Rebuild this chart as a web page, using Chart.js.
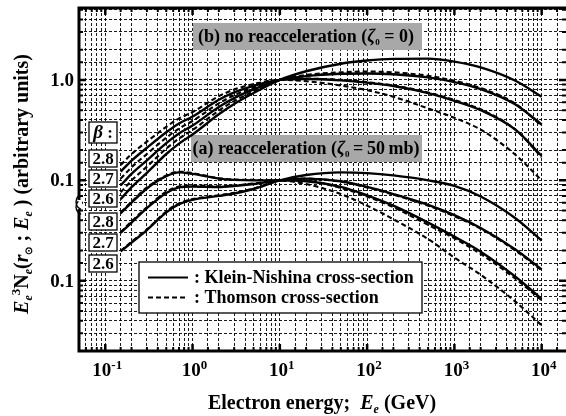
<!DOCTYPE html>
<html>
<head>
<meta charset="utf-8">
<script src="https://cdn.jsdelivr.net/npm/chart.js@4.4.0/dist/chart.umd.min.js"></script>
<style>
html, body { margin: 0; padding: 0; background: #fff; }
#c { display: block; }
</style>
</head>
<body>
<canvas id="c" width="566" height="416"></canvas>
<script>
// electron energy grid (GeV)
var energy = [0.15, 0.2, 0.3, 0.5, 0.7, 1, 2, 3, 5, 10, 20, 50, 100, 200, 500, 1000, 2000, 5000, 10000];

// (b) no reacceleration
var b28Thomson = [0.142, 0.183, 0.243, 0.341, 0.414, 0.479, 0.689, 0.802, 0.909, 1, 0.97, 0.88, 0.79, 0.68, 0.52, 0.42, 0.32, 0.18, 0.10];
var b28KN      = [0.122, 0.157, 0.211, 0.301, 0.369, 0.432, 0.634, 0.751, 0.872, 1, 1.02, 0.99, 0.94, 0.87, 0.74, 0.62, 0.50, 0.32, 0.175];
var b27Thomson = [0.104, 0.135, 0.183, 0.266, 0.328, 0.390, 0.584, 0.703, 0.837, 1, 1.03, 1.00, 0.95, 0.88, 0.75, 0.63, 0.51, 0.32, 0.17];
var b27KN      = [0.089, 0.116, 0.158, 0.235, 0.293, 0.351, 0.537, 0.658, 0.803, 1, 1.09, 1.15, 1.16, 1.14, 1.06, 0.95, 0.81, 0.57, 0.36];
var b26Thomson = [0.076, 0.0995, 0.137, 0.207, 0.261, 0.317, 0.495, 0.615, 0.771, 1, 1.12, 1.19, 1.21, 1.19, 1.10, 0.98, 0.83, 0.58, 0.35];
var b26KN      = [0.065, 0.0855, 0.119, 0.183, 0.232, 0.286, 0.455, 0.576, 0.740, 1, 1.22, 1.45, 1.56, 1.62, 1.63, 1.52, 1.33, 0.98, 0.68];

// (a) reacceleration
var a28Thomson = [0.048, 0.061, 0.085, 0.112, 0.122, 0.118, 0.105, 0.102, 0.101, 0.1, 0.092, 0.073, 0.056, 0.041, 0.026, 0.017, 0.0115, 0.0062, 0.0036];
var a28KN      = [0.047, 0.060, 0.083, 0.110, 0.120, 0.116, 0.104, 0.101, 0.100, 0.1, 0.098, 0.086, 0.071, 0.056, 0.038, 0.0275, 0.0195, 0.011, 0.0066];
var a27Thomson = [0.0305, 0.039, 0.054, 0.077, 0.087, 0.089, 0.087, 0.089, 0.093, 0.1, 0.099, 0.084, 0.069, 0.054, 0.036, 0.0265, 0.0185, 0.0105, 0.0064];
var a27KN      = [0.030, 0.038, 0.053, 0.075, 0.085, 0.087, 0.086, 0.088, 0.092, 0.1, 0.104, 0.098, 0.086, 0.073, 0.057, 0.045, 0.0335, 0.0205, 0.013];
var a26Thomson = [0.0198, 0.0245, 0.0325, 0.049, 0.059, 0.065, 0.071, 0.075, 0.083, 0.1, 0.104, 0.097, 0.085, 0.072, 0.056, 0.044, 0.033, 0.020, 0.0127];
var a26KN      = [0.0196, 0.024, 0.032, 0.048, 0.058, 0.064, 0.070, 0.074, 0.082, 0.1, 0.113, 0.12, 0.118, 0.112, 0.10, 0.088, 0.069, 0.042, 0.0252];

// axis labels
var xTickExps = [-1, 0, 1, 2, 3, 4];
var yTickLabels = [[1, "1.0"], [0.1, "0.1"], [0.01, "0.1"]];
var betaLabels = ["\u03B2:", "2.8", "2.7", "2.6", "2.8", "2.7", "2.6"];

var serif = '"Liberation Serif", "Times New Roman", serif';
function F(size, italic) { return (italic ? "italic " : "") + "bold " + size + "px " + serif; }

function mkSet(arr, dashed) {
	var pts = [];
	for (var i = 0; i < energy.length; i++) pts.push({x: energy[i], y: arr[i]});
	return {
		data: pts,
		borderColor: "#000",
		borderWidth: dashed ? 2.1 : 2.4,
		borderDash: dashed ? [5, 3] : [],
		pointRadius: 0,
		fill: false,
		cubicInterpolationMode: "monotone"
	};
}

// text made of pieces with their own font / vertical shift
function rich(ctx, parts, x, y, align) {
	var w = 0;
	parts.forEach(function(p){ ctx.font = p.f; w += ctx.measureText(p.t).width; });
	var sx = align == "center" ? x - w / 2 : (align == "right" ? x - w : x);
	ctx.textAlign = "left";
	ctx.textBaseline = "alphabetic";
	parts.forEach(function(p){
		ctx.font = p.f;
		ctx.fillText(p.t, sx, y + (p.dy || 0));
		sx += ctx.measureText(p.t).width;
	});
	return w;
}

var decor = {
	id: "decor",
	beforeDatasetsDraw: function(chart) {
		var ctx = chart.ctx;
		ctx.save();
		// grey annotation boxes
		ctx.fillStyle = "#a8a8a8";
		ctx.fillRect(193, 23, 229, 27);
		ctx.fillRect(191, 135, 231, 27);
		ctx.fillStyle = "#000";
		rich(ctx, [
			{t: "(b) no reacceleration (", f: F(18)},
			{t: "\u03B6", f: F(18, true)},
			{t: "0", f: F(9), dy: 3},
			{t: " = 0)", f: F(18)}
		], 306, 42, "center");
		rich(ctx, [
			{t: "(a) reacceleration (", f: F(18)},
			{t: "\u03B6", f: F(18, true)},
			{t: "0", f: F(9), dy: 3},
			{t: "\u2009=\u200950\u2009mb)", f: F(18)}
		], 306, 154, "center");

		// legend box
		ctx.fillStyle = "#fff";
		ctx.fillRect(139, 262, 283, 51);
		ctx.strokeStyle = "#000";
		ctx.lineWidth = 1.3;
		ctx.strokeRect(139, 262, 283, 51);
		ctx.lineWidth = 2.2;
		ctx.beginPath(); ctx.moveTo(148, 277.5); ctx.lineTo(188, 277.5); ctx.stroke();
		ctx.setLineDash([5, 3]);
		ctx.beginPath(); ctx.moveTo(148, 297.5); ctx.lineTo(188, 297.5); ctx.stroke();
		ctx.setLineDash([]);
		ctx.fillStyle = "#000";
		rich(ctx, [{t: ": Klein-Nishina cross-section", f: F(18)}], 194, 283, "left");
		rich(ctx, [{t: ": Thomson cross-section", f: F(18)}], 194, 303, "left");
		ctx.restore();
	},
	afterDraw: function(chart) {
		var ctx = chart.ctx, a = chart.chartArea;
		var xs = chart.scales.x, ys = chart.scales.y;
		ctx.save();
		ctx.strokeStyle = "#000";
		ctx.fillStyle = "#000";

		// inner tick marks
		xs.ticks.forEach(function(t){
			if (t.value <= xs.min || t.value >= xs.max) return;
			var px = xs.getPixelForValue(t.value);
			var major = Math.abs(Math.log10(t.value) - Math.round(Math.log10(t.value))) < 1e-6;
			var len = major ? 7 : 4;
			ctx.lineWidth = major ? 2.5 : 2;
			ctx.beginPath();
			ctx.moveTo(px, a.bottom); ctx.lineTo(px, a.bottom - len);
			ctx.moveTo(px, a.top); ctx.lineTo(px, a.top + len);
			ctx.stroke();
		});
		ys.ticks.forEach(function(t){
			if (t.value <= ys.min || t.value >= ys.max) return;
			var py = ys.getPixelForValue(t.value);
			var major = Math.abs(Math.log10(t.value) - Math.round(Math.log10(t.value))) < 1e-6;
			var len = major ? 7 : 4;
			ctx.lineWidth = major ? 2.5 : 2;
			ctx.beginPath();
			ctx.moveTo(a.left, py); ctx.lineTo(a.left + len, py);
			ctx.moveTo(a.right, py); ctx.lineTo(a.right - len, py);
			ctx.stroke();
		});

		// frame
		ctx.lineWidth = 3;
		ctx.beginPath();
		ctx.moveTo(a.right + 2, a.top);
		ctx.lineTo(a.left, a.top);
		ctx.lineTo(a.left, a.bottom);
		ctx.lineTo(a.right + 2, a.bottom);
		ctx.stroke();

		// axis break on the y axis: two "(" arcs with white between
		var bx = a.left, by = 205;
		ctx.fillStyle = "#fff";
		ctx.fillRect(bx - 3, by - 5, 6, 9);
		ctx.lineWidth = 1.4;
		[-3, 2].forEach(function(off){
			ctx.beginPath();
			ctx.arc(bx + 5, by + off, 8, Math.PI * 0.62, Math.PI * 1.25);
			ctx.stroke();
		});
		ctx.fillStyle = "#000";

		// x tick labels
		xTickExps.forEach(function(k){
			var px = xs.getPixelForValue(Math.pow(10, k));
			rich(ctx, [{t: "10", f: F(19)}, {t: String(k), f: F(13), dy: -7}], px + 2, 376, "center");
		});
		// y tick labels
		yTickLabels.forEach(function(p){
			var py = ys.getPixelForValue(p[0]);
			rich(ctx, [{t: p[1], f: F(19)}], 74, py + 6, "right");
		});

		// beta boxes
		var boxY = [122, 150, 170, 190, 213, 234, 255];
		betaLabels.forEach(function(s, i){
			var h = i == 0 ? 21 : 17;
			ctx.fillStyle = "#fff";
			ctx.fillRect(89, boxY[i], 28, h);
			ctx.lineWidth = 1.3;
			ctx.strokeRect(89, boxY[i], 28, h);
			ctx.fillStyle = "#000";
			if (i == 0) {
				rich(ctx, [{t: "\u03B2", f: F(19, true)}, {t: " :", f: F(17)}], 103, boxY[i] + 16, "center");
			} else {
				rich(ctx, [{t: s, f: F(17)}], 103, boxY[i] + 14, "center");
			}
		});

		// x title
		rich(ctx, [
			{t: "Electron energy;  ", f: F(20)},
			{t: "E", f: F(20, true)},
			{t: "e", f: F(12, true), dy: 4},
			{t: " (GeV)", f: F(20)}
		], 322, 409, "center");

		// y title (rotated)
		ctx.save();
		ctx.translate(28, 184);
		ctx.rotate(-Math.PI / 2);
		rich(ctx, [
			{t: "E", f: F(20, true)},
			{t: "e", f: F(12, true), dy: 4},
			{t: "3", f: F(13), dy: -8},
			{t: "N", f: F(20)},
			{t: "e", f: F(12, true), dy: 4},
			{t: "(", f: F(20)},
			{t: "r", f: F(20, true)},
			{t: "\u2299", f: F(10), dy: 4},
			{t: " ; ", f: F(20)},
			{t: "E", f: F(20, true)},
			{t: "e", f: F(12, true), dy: 4},
			{t: " ) (arbitrary units)", f: F(20)}
		], 0, 0, "center");
		ctx.restore();

		ctx.restore();
	}
};

var gridColor = function(c) {
	var s = c.scale;
	if (!c.tick || c.tick.value <= s.min || c.tick.value >= s.max) return "rgba(0,0,0,0)";
	return "#000";
};

var ctx = document.getElementById("c").getContext("2d");
var chart = new Chart(ctx, {
	type: "line",
	data: {
		datasets: [
			mkSet(b26KN, false), mkSet(b26Thomson, true),
			mkSet(b27KN, false), mkSet(b27Thomson, true),
			mkSet(b28KN, false), mkSet(b28Thomson, true),
			mkSet(a26KN, false), mkSet(a26Thomson, true),
			mkSet(a27KN, false), mkSet(a27Thomson, true),
			mkSet(a28KN, false), mkSet(a28Thomson, true)
		]
	},
	options: {
		responsive: false,
		animation: false,
		layout: { padding: { left: 79, top: 8, right: 0, bottom: 65 } },
		scales: {
			x: {
				type: "logarithmic",
				min: 0.05,
				max: 19000,
				ticks: { display: false, autoSkip: false },
				grid: { color: gridColor, lineWidth: 0.9, drawTicks: false },
				border: { display: false, dash: [3, 2] }
			},
			y: {
				type: "logarithmic",
				min: 0.002,
				max: 5.2,
				ticks: { display: false, autoSkip: false },
				grid: { color: gridColor, lineWidth: 0.9, drawTicks: false },
				border: { display: false, dash: [3, 2] }
			}
		},
		plugins: {
			legend: { display: false },
			tooltip: { enabled: false }
		}
	},
	plugins: [decor]
});
</script>
</body>
</html>
